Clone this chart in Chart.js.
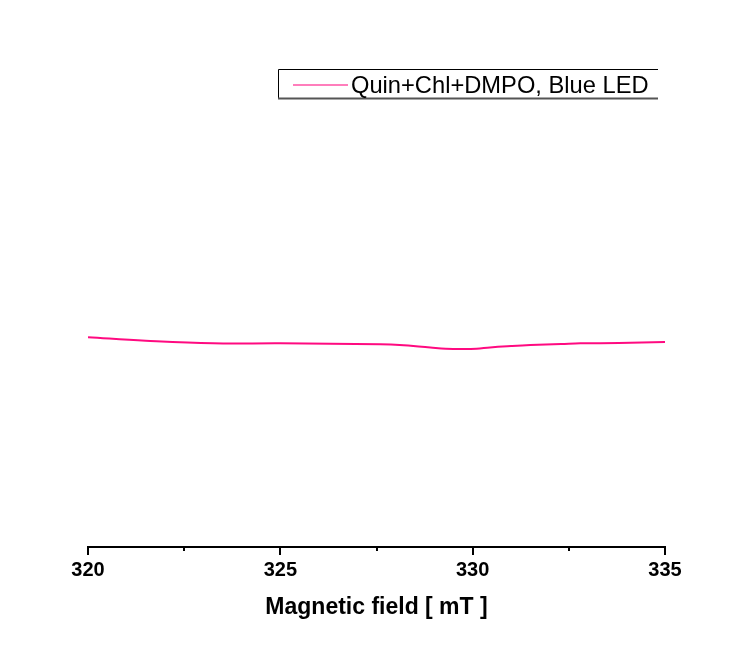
<!DOCTYPE html>
<html>
<head>
<meta charset="utf-8">
<script src="https://cdn.jsdelivr.net/npm/chart.js@4"></script>
<style>
html,body{margin:0;padding:0;background:#fff;}
#wrap{width:740px;height:650px;position:relative;}
</style>
</head>
<body>
<div id="wrap"><canvas id="c" width="740" height="650"></canvas></div>
<script>
// Data
const seriesLabel = 'Quin+Chl+DMPO, Blue LED';
const fields = [320, 321.5, 323.25, 325, 326.3, 327.6, 328.1, 328.9, 329.3, 329.7, 330.1, 330.45, 331.0, 331.5, 332.3, 332.8, 333.8, 335];
const intensity = [-40.3, -43.7, -46.3, -46.3, -46.8, -47.3, -48, -50.5, -51.7, -52.1, -51.8, -50.4, -49, -48, -47, -46.3, -46, -45];
const xTicks = [320, 322.5, 325, 327.5, 330, 332.5, 335];
const xTitle = 'Magnetic field [ mT ]';

const lineColor = '#FF0A80';

const tickPlugin = {
  id: 'originTicks',
  afterDraw(chart) {
    const ctx = chart.ctx;
    const xs = chart.scales.x;
    const y0 = chart.chartArea.bottom;
    ctx.save();
    ctx.strokeStyle = '#000';
    ctx.lineWidth = 2;
    xTicks.forEach(v => {
      const px = Math.round(xs.getPixelForValue(v));
      const major = Math.abs(v % 5) < 1e-9;
      ctx.beginPath();
      ctx.moveTo(px, y0);
      ctx.lineTo(px, y0 + (major ? 8 : 4));
      ctx.stroke();
    });
    ctx.restore();
  }
};

const legendPlugin = {
  id: 'originLegend',
  afterDraw(chart) {
    const ctx = chart.ctx;
    ctx.save();
    ctx.strokeStyle = '#000';
    ctx.lineWidth = 1;
    ctx.beginPath();
    ctx.moveTo(278.5, 98);
    ctx.lineTo(278.5, 69.5);
    ctx.lineTo(658, 69.5);
    ctx.stroke();
    ctx.strokeStyle = '#555';
    ctx.lineWidth = 2;
    ctx.beginPath();
    ctx.moveTo(278, 98.5);
    ctx.lineTo(658, 98.5);
    ctx.stroke();
    ctx.strokeStyle = lineColor;
    ctx.globalAlpha = 0.7;
    ctx.lineWidth = 1.5;
    ctx.beginPath();
    ctx.moveTo(293, 85);
    ctx.lineTo(348, 85);
    ctx.stroke();
    ctx.globalAlpha = 1;
    ctx.fillStyle = '#000';
    ctx.font = '23.7px "Liberation Sans", Arial, sans-serif';
    ctx.textBaseline = 'middle';
    ctx.textAlign = 'left';
    ctx.fillText(chart.data.datasets[0].label, 351, 86);
    ctx.restore();
  }
};

new Chart(document.getElementById('c'), {
  type: 'line',
  data: {
    datasets: [{
      label: seriesLabel,
      data: fields.map((f, i) => ({x: f, y: intensity[i]})),
      borderColor: lineColor,
      borderWidth: 2,
      pointRadius: 0,
      tension: 0.4,
      fill: false
    }]
  },
  options: {
    responsive: false,
    animation: false,
    devicePixelRatio: 1,
    layout: { padding: { left: 88, right: 75, top: 47, bottom: 0 } },
    plugins: { legend: { display: false }, tooltip: { enabled: false } },
    scales: {
      x: {
        type: 'linear',
        min: 320, max: 335,
        afterBuildTicks(scale) { scale.ticks = xTicks.map(v => ({value: v})); },
        afterFit(scale) { scale.height = 103; },
        border: { display: true, color: '#000', width: 2 },
        grid: { display: false, drawTicks: false },
        ticks: {
          autoSkip: false,
          maxRotation: 0,
          padding: 11,
          color: '#000',
          font: { family: '"Liberation Sans", Arial, sans-serif', size: 20, weight: 'bold' },
          callback: v => (Math.abs(v % 5) < 1e-9 ? String(v) : '')
        },
        title: {
          display: true,
          text: xTitle,
          color: '#000',
          font: { family: '"Liberation Sans", Arial, sans-serif', size: 23, weight: 'bold' },
          padding: { top: 0, bottom: 29 }
        }
      },
      y: {
        display: false,
        min: -250, max: 250
      }
    }
  },
  plugins: [tickPlugin, legendPlugin]
});
</script>
</body>
</html>
